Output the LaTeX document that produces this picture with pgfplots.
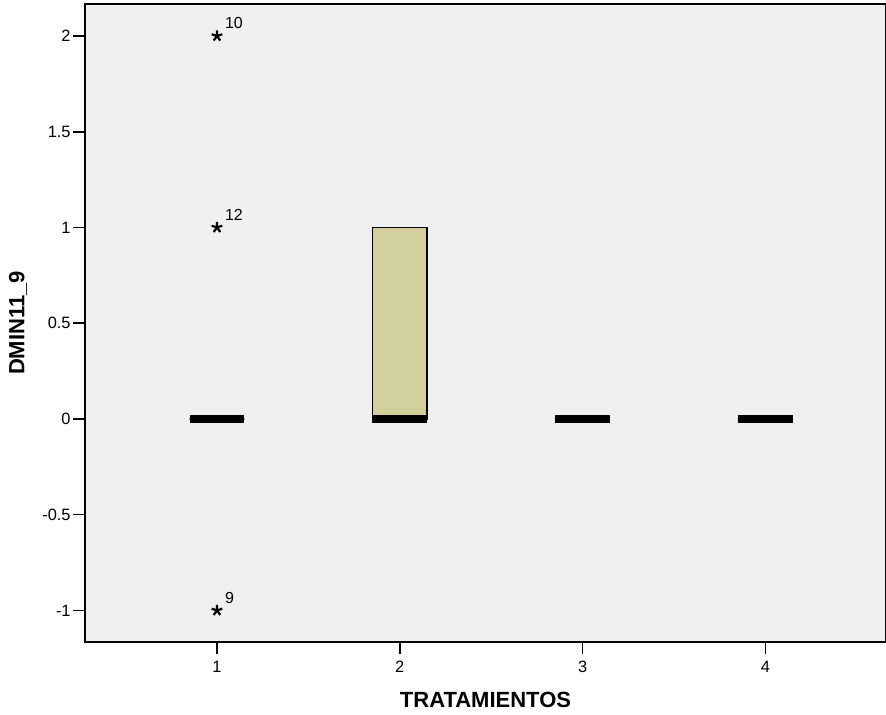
\documentclass[border=0pt]{standalone}
\usepackage{pgfplots}
\pgfplotsset{compat=1.18}
\usepgfplotslibrary{statistics}
\usepackage{fontspec}
\setmainfont{Liberation Sans}
\definecolor{bgc}{HTML}{F0F0F0}
\definecolor{boxc}{HTML}{D3CF9A}
\begin{document}
\begin{tikzpicture}
\useasboundingbox (0,0) rectangle (443pt,357pt);
\begin{axis}[
  at={(42.5pt,36pt)}, anchor=south west,
  scale only axis, width=400.5pt, height=319pt,
  xmin=0.278, xmax=4.66, ymin=-1.165, ymax=2.167,
  axis background/.style={fill=bgc},
  axis line style={black, line width=0.8pt},
  xtick={1,2,3,4}, ytick={-1,-0.5,0,0.5,1,1.5,2},
  tick align=outside, major tick length=6pt,
  tick style={black, line width=0.8pt},
  xtick pos=bottom, ytick pos=left,
  /pgf/number format/assume math mode=true,
  ticklabel style={font=\fontsize{8.2}{10}\selectfont},
  yticklabel style={inner sep=1pt},
  xlabel={TRATAMIENTOS}, ylabel={DMIN11\_9},
  label style={font=\fontsize{11}{13}\selectfont\bfseries},
  xlabel style={at={(axis description cs:0.5,-0.0909)}, anchor=center},
  ylabel style={at={(axis description cs:-0.0836,0.5)}, anchor=center},
  boxplot/draw direction=y,
  boxplot/box extend=0.3,
  clip=false,
]
\addplot[boxplot prepared={median=0, lower quartile=0, upper quartile=0, lower whisker=0, upper whisker=0, draw position=1},
  draw=black, line width=0.6pt, boxplot/every median/.style={line width=4pt}] coordinates {};
\addplot[boxplot prepared={median=0, lower quartile=0, upper quartile=1, lower whisker=0, upper whisker=1, draw position=2},
  draw=black, fill=boxc, line width=0.8pt, boxplot/every median/.style={line width=4pt},
  boxplot/every whisker/.style={draw=gray!70, line width=0.6pt}] coordinates {};
\addplot[boxplot prepared={median=0, lower quartile=0, upper quartile=0, lower whisker=0, upper whisker=0, draw position=3},
  draw=black, line width=0.6pt, boxplot/every median/.style={line width=4pt}] coordinates {};
\addplot[boxplot prepared={median=0, lower quartile=0, upper quartile=0, lower whisker=0, upper whisker=0, draw position=4},
  draw=black, line width=0.6pt, boxplot/every median/.style={line width=4pt}] coordinates {};
\addplot[only marks, mark=star, mark size=2.8pt, mark options={line width=1.1pt, black},
  nodes near coords, point meta=explicit symbolic,
  every node near coord/.style={anchor=south west, inner sep=0pt, xshift=3.5pt, yshift=3pt, font=\fontsize{8}{9}\selectfont, black}]
  coordinates {(1,2)[10] (1,1)[12] (1,-1)[9]};
\end{axis}
\end{tikzpicture}
\end{document}
